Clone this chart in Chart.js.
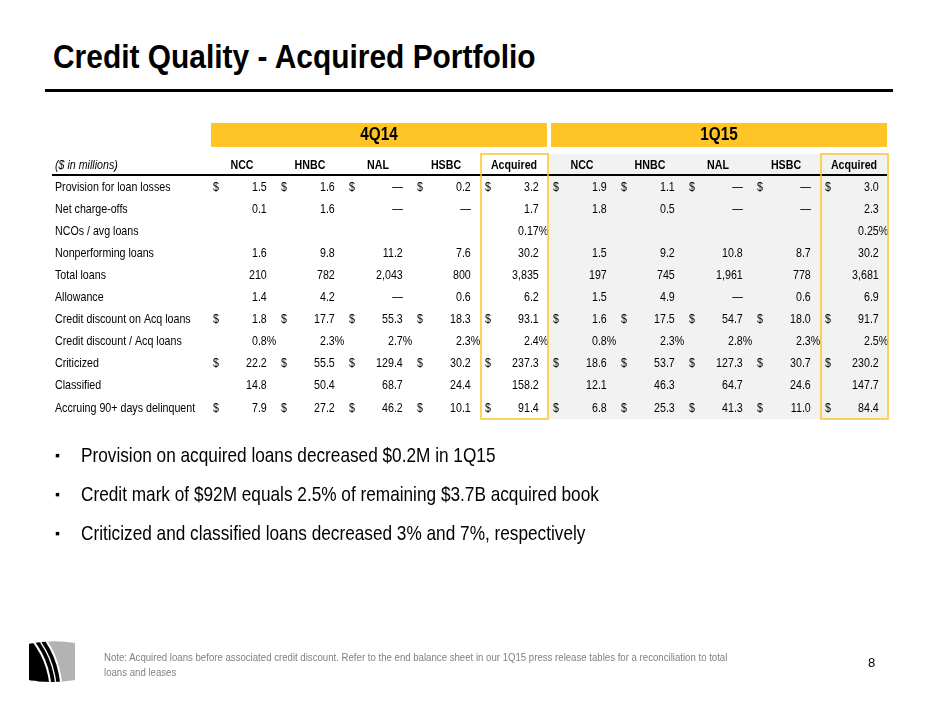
<!DOCTYPE html>
<html>
<head>
<meta charset="utf-8">
<script src="https://cdn.jsdelivr.net/npm/chart.js@4.4.1/dist/chart.umd.min.js"></script>
<style>
  body { margin: 0; background: #fff; }
  #slide { position: relative; width: 940px; height: 705px; overflow: hidden;
           font-family: 'Liberation Sans Narrow', 'Arial Narrow', 'Liberation Sans', Arial, sans-serif; color: #000; }
  #table { position: absolute; left: 0; top: 0; }
  .squeeze { transform-origin: 0 0; white-space: nowrap; }
  h1 { position: absolute; left: 53px; top: 36px; margin: 0; font-size: 34px; font-weight: bold; line-height: 40px; transform: scaleX(0.88); }
  .rule { position: absolute; left: 45px; top: 89px; width: 848px; height: 3px; background: #000; }
  .bullets { position: absolute; left: 55px; top: 441px; margin: 0; padding: 0; list-style: none; font-size: 21px; }
  .bullets li { height: 39px; line-height: 28px; white-space: nowrap; }
  .bullets li .dot { display: inline-block; width: 26px; font-size: 14px; vertical-align: top; }
  .bullets li .txt { display: inline-block; transform: scaleX(0.82); transform-origin: 0 0; }
  .note { position: absolute; left: 104px; top: 650px; font-size: 11.5px; line-height: 15px; color: #808080; transform: scaleX(0.837); }
  .page { position: absolute; left: 868px; top: 655px; font-size: 13px; }
  .logo { position: absolute; left: 28px; top: 640px; }
</style>
</head>
<body>
<div id="slide">
  <h1 class="squeeze">Credit Quality - Acquired Portfolio</h1>
  <div class="rule"></div>
  <canvas id="table" width="940" height="705"></canvas>
  <ul class="bullets">
    <li><span class="dot">&#9642;</span><span class="txt">Provision on acquired loans decreased $0.2M in 1Q15</span></li>
    <li><span class="dot">&#9642;</span><span class="txt">Credit mark of $92M equals 2.5% of remaining $3.7B acquired book</span></li>
    <li><span class="dot">&#9642;</span><span class="txt">Criticized and classified loans decreased 3% and 7%, respectively</span></li>
  </ul>
  <svg class="logo" width="48" height="43" viewBox="0 0 48 43">
    <defs>
      <clipPath id="barrel">
        <path d="M1 4 Q24 -1 47 3 L47 40 Q24 44 1 40 Z"/>
      </clipPath>
    </defs>
    <g clip-path="url(#barrel)">
      <rect x="0" y="0" width="48" height="43" fill="#b3b3b3"/>
      <circle cx="-60" cy="52" r="94.5" fill="#fff"/>
      <circle cx="-60" cy="52" r="92.5" fill="#000"/>
      <circle cx="-60" cy="52" r="88.8" fill="#fff"/>
      <circle cx="-60" cy="52" r="87.4" fill="#000"/>
      <circle cx="-60" cy="52" r="83.6" fill="#fff"/>
      <circle cx="-60" cy="52" r="81.6" fill="#000"/>
    </g>
  </svg>
  <div class="note squeeze">Note: Acquired loans before associated credit discount. Refer to the end balance sheet in our 1Q15 press release tables for a reconciliation to total<br>loans and leases</div>
  <div class="page">8</div>
</div>
<script>
// colunas e linhas da tabela
const quarters = ['4Q14', '1Q15'];
const banks = ['NCC', 'HNBC', 'NAL', 'HSBC', 'Acquired'];
const rowLabels = [
  'Provision for loan losses',
  'Net charge-offs',
  'NCOs / avg loans',
  'Nonperforming loans',
  'Total loans',
  'Allowance',
  'Credit discount on Acq loans',
  'Credit discount / Acq loans',
  'Criticized',
  'Classified',
  'Accruing 90+ days delinquent'
];
// linhas com "$" na frente
const dollarRows = [true, false, false, false, false, false, true, false, true, false, true];
// formato de cada linha
const rowFormats = ['d1', 'd1', 'pct2', 'd1', 'int', 'd1', 'd1', 'pct1', 'd1', 'd1', 'd1'];

// valores ($ em milhões), 0 = "—", null = vazio
const q4NCC  = [1.5, 0.1, null, 1.6, 210, 1.4, 1.8, 0.8, 22.2, 14.8, 7.9];
const q4HNBC = [1.6, 1.6, null, 9.8, 782, 4.2, 17.7, 2.3, 55.5, 50.4, 27.2];
const q4NAL  = [0, 0, null, 11.2, 2043, 0, 55.3, 2.7, 129.4, 68.7, 46.2];
const q4HSBC = [0.2, 0, null, 7.6, 800, 0.6, 18.3, 2.3, 30.2, 24.4, 10.1];
const q4Acq  = [3.2, 1.7, 0.17, 30.2, 3835, 6.2, 93.1, 2.4, 237.3, 158.2, 91.4];
const q1NCC  = [1.9, 1.8, null, 1.5, 197, 1.5, 1.6, 0.8, 18.6, 12.1, 6.8];
const q1HNBC = [1.1, 0.5, null, 9.2, 745, 4.9, 17.5, 2.3, 53.7, 46.3, 25.3];
const q1NAL  = [0, 0, null, 10.8, 1961, 0, 54.7, 2.8, 127.3, 64.7, 41.3];
const q1HSBC = [0, 0, null, 8.7, 778, 0.6, 18.0, 2.3, 30.7, 24.6, 11.0];
const q1Acq  = [3.0, 2.3, 0.25, 30.2, 3681, 6.9, 91.7, 2.5, 230.2, 147.7, 84.4];

const columns = [q4NCC, q4HNBC, q4NAL, q4HSBC, q4Acq, q1NCC, q1HNBC, q1NAL, q1HSBC, q1Acq];
const columnKeys = quarters.flatMap(q => banks.map(b => q + ' ' + b));

const FONT = "'Liberation Sans Narrow', 'Arial Narrow', 'Liberation Sans', Arial, sans-serif";
const YELLOW = '#FFC425';
const SQ = 0.82; // aperto horizontal (sem Arial Narrow instalada)

function formatValue(v, fmt) {
  if (fmt === 'pct2') return { num: v.toFixed(2), pct: true };
  if (fmt === 'pct1') return { num: v.toFixed(1), pct: true };
  if (v === 0) return { num: '\u2014', pct: false };
  if (fmt === 'int') return { num: v.toLocaleString('en-US'), pct: false };
  return { num: v.toFixed(1), pct: false };
}

// texto comprimido na horizontal
function drawText(ctx, text, x, y, align, font, sx) {
  ctx.save();
  ctx.font = font;
  ctx.textAlign = align;
  ctx.textBaseline = 'middle';
  ctx.translate(x, y);
  ctx.scale(sx, 1);
  ctx.fillText(text, 0, 0);
  ctx.restore();
}

const tablePlugin = {
  id: 'tablePlugin',
  beforeDraw(chart) {
    const ctx = chart.ctx;
    const x = chart.scales.x, y = chart.scales.y, area = chart.chartArea;
    const colW = x.getPixelForValue(1) - x.getPixelForValue(0);
    const rowH = y.getPixelForValue(1) - y.getPixelForValue(0);
    const headTop = area.top - rowH;
    ctx.save();
    // fundo cinza do 1Q15
    const g0 = x.getPixelForValue(5) - colW / 2;
    const g1 = x.getPixelForValue(9) + colW / 2 - 2;
    ctx.fillStyle = '#F2F2F2';
    ctx.fillRect(g0, headTop, g1 - g0, area.bottom - headTop);
    // barras amarelas dos trimestres
    quarters.forEach((q, k) => {
      const l = x.getPixelForValue(k * 5) - colW / 2 + 2;
      const r = x.getPixelForValue(k * 5 + 4) + colW / 2 - 2;
      ctx.fillStyle = YELLOW;
      ctx.fillRect(l, headTop - 31, r - l, 24);
      ctx.fillStyle = '#000';
      drawText(ctx, q, (l + r) / 2, headTop - 18.5, 'center', 'bold 18px ' + FONT, 0.85);
    });
    ctx.restore();
  },
  afterDraw(chart) {
    const ctx = chart.ctx;
    const x = chart.scales.x, y = chart.scales.y, area = chart.chartArea;
    const colW = x.getPixelForValue(1) - x.getPixelForValue(0);
    const rowH = y.getPixelForValue(1) - y.getPixelForValue(0);
    const headTop = area.top - rowH;
    const headY = headTop + rowH / 2;
    ctx.save();
    ctx.fillStyle = '#000';
    // linha abaixo do cabeçalho
    ctx.strokeStyle = '#000';
    ctx.lineWidth = 2;
    ctx.beginPath();
    ctx.moveTo(y.left - 3, area.top - 1);
    ctx.lineTo(area.right - 2, area.top - 1);
    ctx.stroke();
    // cabeçalho
    drawText(ctx, '($ in millions)', y.left, headY, 'left', 'italic 13px ' + FONT, SQ);
    columnKeys.forEach((k, c) => {
      drawText(ctx, banks[c % banks.length], x.getPixelForValue(c) - 1, headY, 'center', 'bold 13px ' + FONT, SQ);
    });
    // rótulos das linhas
    rowLabels.forEach((r, i) => {
      drawText(ctx, r, y.left, y.getPixelForValue(i), 'left', '13px ' + FONT, SQ);
    });
    // células
    chart.data.datasets.forEach((ds, c) => {
      const meta = chart.getDatasetMeta(c);
      meta.data.forEach((pt, i) => {
        const v = columns[c][i];
        if (v === null || v === undefined) return;
        const f = formatValue(v, rowFormats[i]);
        const right = pt.x + colW * 0.35;
        drawText(ctx, f.num, right, pt.y, 'right', '13px ' + FONT, SQ);
        if (f.pct) drawText(ctx, '%', right, pt.y, 'left', '13px ' + FONT, SQ);
        if (dollarRows[i]) drawText(ctx, '$', pt.x - colW * 0.44, pt.y, 'left', '13px ' + FONT, SQ);
      });
    });
    // caixas amarelas das colunas "Acquired"
    ctx.strokeStyle = YELLOW;
    ctx.lineWidth = 1.5;
    [4, 9].forEach(c => {
      const l = x.getPixelForValue(c) - colW / 2;
      ctx.strokeRect(l, headTop, colW - 1, area.bottom - headTop);
    });
    ctx.restore();
  }
};

new Chart(document.getElementById('table'), {
  type: 'scatter',
  data: {
    datasets: columns.map((vals, c) => ({
      label: columnKeys[c],
      data: rowLabels.map(r => ({ x: columnKeys[c], y: r })),
      pointRadius: 0,
      pointHoverRadius: 0
    }))
  },
  options: {
    responsive: false,
    animation: false,
    events: [],
    layout: { padding: { left: 55, right: 51, top: 152, bottom: 286 } },
    plugins: { legend: { display: false }, tooltip: { enabled: false } },
    scales: {
      x: {
        type: 'category',
        labels: columnKeys,
        position: 'top',
        offset: true,
        grid: { display: false },
        border: { display: false },
        ticks: { display: false },
        afterFit: s => { s.height = 24; }
      },
      y: {
        type: 'category',
        labels: rowLabels,
        offset: true,
        grid: { display: false },
        border: { display: false },
        ticks: { display: false },
        afterFit: s => { s.width = 154; }
      }
    }
  },
  plugins: [tablePlugin]
});
</script>
</body>
</html>
